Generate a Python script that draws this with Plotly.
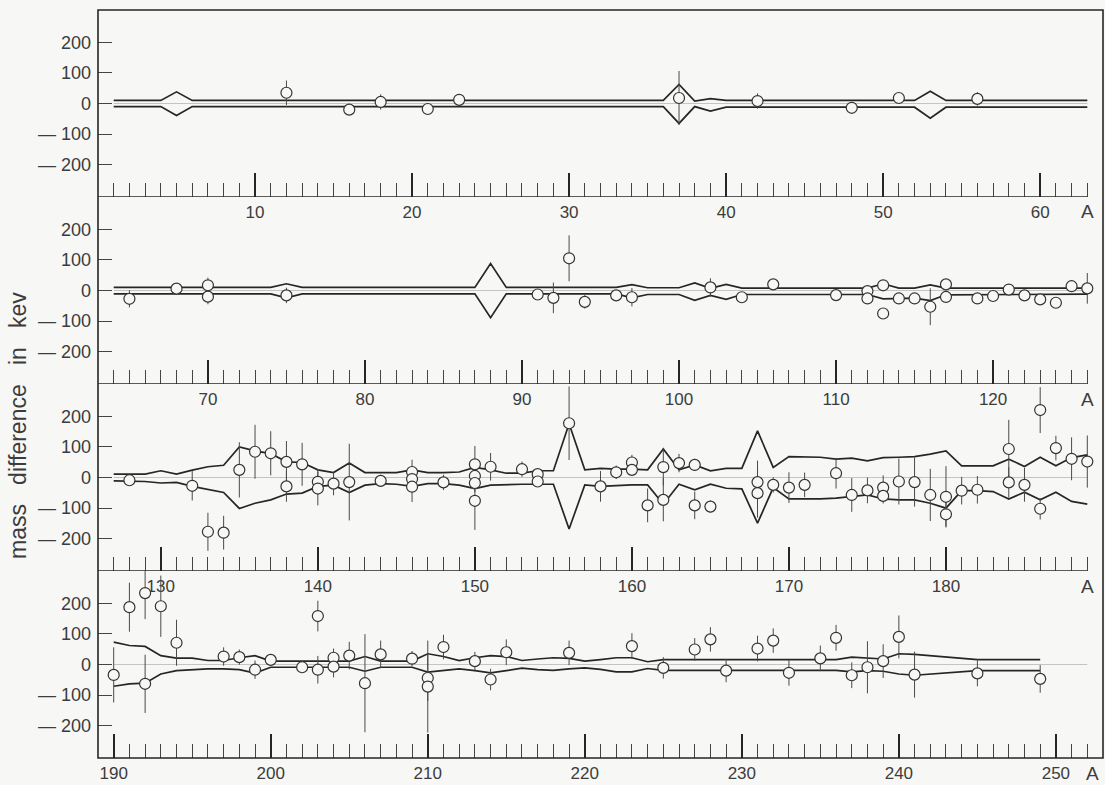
import plotly.graph_objects as go

# ---- panel 1 : A = 1 ... 63 ----
p1_A = [12, 16, 18, 21, 23, 37, 42, 48, 51, 56]
p1_v = [35, -20, 5, -18, 12, 18, 8, -14, 18, 15]
p1_e = [40, 5, 25, 18, 8, 88, 25, 6, 8, 22]
env1_A = [1, 4, 5, 6, 36, 37, 38, 39, 40, 52, 53, 54, 63]
env1_hi = [10, 10, 38, 10, 10, 62, 8, 16, 10, 10, 40, 10, 10]
env1_lo = [-10, -10, -39, -10, -10, -65, -10, -25, -12, -12, -48, -12, -12]

# ---- panel 2 : A = 64 ... 126 ----
p2_A = [65, 68, 70, 70, 75, 91, 92, 93, 94, 96, 97, 102, 104, 106, 110, 112, 112,
        113, 113, 114, 115, 116, 117, 117, 119, 120, 121, 122, 123, 124, 125, 126]
p2_v = [-27, 6, 17, -20, -16, -13, -24, 105, -37, -16, -22, 10, -22, 20, -15, -2, -26,
        17, -75, -26, -26, -53, 20, -21, -26, -18, 3, -16, -29, -40, 14, 7]
p2_e = [28, 6, 25, 25, 25, 5, 50, 75, 22, 6, 30, 30, 6, 8, 5, 5, 5,
        5, 5, 5, 5, 60, 5, 5, 5, 5, 5, 12, 12, 12, 12, 50]
env2_A = [64, 74, 75, 76, 87, 88, 89, 96, 97, 98, 100, 101, 102, 103, 104, 112, 113,
          114, 115, 116, 117, 126]
env2_hi = [10, 10, 22, 10, 10, 88, 10, 10, 19, 9, 9, 25, 7, 20, 8, 8, 22,
           8, 8, 18, 8, 8]
env2_lo = [-11, -11, -24, -11, -11, -89, -11, -11, -24, -13, -13, -32, -16, -29, -13, -13, -27,
           -25, -25, -33, -14, -12]

# ---- panel 3 : A = 127 ... 189 ----
p3_A = [128, 132, 133, 134, 135, 136, 137, 138, 138, 139, 140, 140, 141, 142, 144, 146, 146,
        146, 148, 150, 150, 150, 150, 151, 153, 154, 154, 156, 158, 159, 160, 160, 161,
        162, 162, 163, 164, 164, 165, 168, 168, 169, 170, 171, 173, 174, 175, 176, 176,
        177, 178, 179, 180, 180, 181, 182, 184, 184, 185, 186, 186, 187, 188, 189]
p3_v = [-9, -27, -177, -180, 25, 84, 79, 51, -29, 43, -14, -36, -20, -15, -11, 18, -5,
        -30, -16, 43, 5, -18, -76, 35, 27, 11, -13, 177, -29, 17, 49, 25, -91,
        34, -73, 47, 41, -91, -95, -15, -51, -24, -33, -24, 14, -57, -42, -33, -60,
        -13, -15, -57, -63, -120, -43, -40, 93, -16, -24, 220, -102, 96, 61, 52]
p3_e = [6, 48, 62, 55, 90, 88, 72, 68, 50, 70, 40, 55, 38, 125, 20, 40, 30,
        50, 25, 60, 30, 30, 95, 45, 25, 12, 12, 120, 50, 22, 25, 15, 55,
        60, 70, 30, 20, 45, 20, 70, 80, 25, 50, 40, 50, 55, 42, 40, 25,
        75, 80, 85, 100, 40, 45, 45, 95, 50, 55, 75, 35, 40, 70, 85]
env3_A = list(range(127, 190))
env3_hi = [11, 11, 11, 22, 11, 24, 35, 40, 100, 87, 78, 51, 49, 25, 16, 47, 16, 16, 16, 25,
           16, 16, 18, 33, 25, 14, 14, 22, 22, 175, 25, 30, 27, 27, 25, 93, 25, 41, 22, 30,
           30, 152, 33, 68, 68, 66, 60, 63, 54, 65, 66, 68, 76, 87, 38, 38, 38, 60, 36, 66,
           38, 65, 74]
env3_lo = [-11, -12, -13, -18, -16, -29, -40, -49, -101, -84, -73, -54, -51, -29, -25, -49,
           -25, -20, -22, -29, -20, -20, -25, -36, -25, -23, -22, -22, -22, -168, -24, -29,
           -26, -24, -24, -87, -22, -40, -22, -35, -37, -149, -33, -70, -70, -70, -67, -62,
           -57, -70, -73, -73, -84, -100, -43, -43, -46, -70, -48, -73, -48, -78, -87]

# ---- panel 4 : A = 190 ... 252 ----
p4_A = [190, 191, 192, 192, 193, 194, 197, 198, 199, 200, 202, 203, 203, 204, 204, 205, 206,
        207, 209, 210, 210, 211, 213, 214, 215, 219, 223, 225, 227, 228, 229, 231, 232,
        233, 235, 236, 237, 238, 239, 240, 241, 245, 249]
p4_v = [-34, 187, 233, -63, 190, 71, 26, 24, -17, 15, -9, 158, -17, 22, -7, 29, -61,
        33, 19, -44, -72, 57, 11, -49, 40, 38, 60, -11, 49, 82, -20, 52, 78,
        -27, 20, 87, -35, -9, 11, 90, -33, -29, -47]
p4_e = [90, 80, 85, 95, 100, 75, 30, 25, 30, 12, 5, 50, 45, 30, 35, 45, 160,
        45, 25, 75, 150, 40, 30, 35, 42, 40, 42, 35, 37, 40, 38, 42, 40,
        42, 42, 42, 42, 85, 55, 70, 75, 42, 45]
env4_A = [190, 191, 192, 193, 194, 195, 196, 197, 198, 199, 200, 205, 206, 207, 209, 210,
          211, 212, 213, 214, 215, 216, 217, 218, 219, 220, 221, 222, 223, 224, 225, 236,
          237, 238, 239, 240, 241, 245, 249]
env4_hi = [73, 62, 59, 29, 21, 21, 13, 13, 22, 29, 11, 11, 26, 11, 11, 35,
           26, 13, 22, 29, 26, 13, 18, 22, 20, 11, 16, 22, 22, 9, 16, 16,
           24, 20, 18, 35, 33, 16, 16]
env4_lo = [-71, -63, -61, -31, -20, -17, -14, -14, -17, -28, -9, -9, -22, -9, -9, -25,
           -20, -14, -20, -27, -20, -12, -17, -19, -14, -11, -16, -24, -24, -13, -19, -19,
           -24, -20, -22, -31, -35, -20, -20]

panels = [
    (1, p1_A, p1_v, p1_e, env1_A, env1_hi, env1_lo, [10, 20, 30, 40, 50, 60]),
    (64, p2_A, p2_v, p2_e, env2_A, env2_hi, env2_lo, [70, 80, 90, 100, 110, 120]),
    (127, p3_A, p3_v, p3_e, env3_A, env3_hi, env3_lo, [130, 140, 150, 160, 170, 180]),
    (190, p4_A, p4_v, p4_e, env4_A, env4_hi, env4_lo, [190, 200, 210, 220, 230, 240, 250]),
]

y_ticks = [200, 100, 0, -100, -200]
y_ticktext = ["200", "100", "0", "— 100", "— 200"]

W, H = 1105, 785
LEFT, RIGHT = 98, 1103
panel_tops = [10, 197, 384, 571]
panel_bots = [197, 384, 571, 758]

BG = "#f7f7f5"
INK = "#262626"
TXT = "#3c3c3c"
FONT = "Liberation Sans"

fig = go.Figure()
layout = dict(
    width=W, height=H,
    margin=dict(l=0, r=0, t=0, b=0),
    paper_bgcolor=BG, plot_bgcolor="rgba(0,0,0,0)",
    showlegend=False,
    font=dict(family=FONT, color=TXT),
)
shapes = []
annotations = []

for k, (s, A, v, e, eA, ehi, elo, majors) in enumerate(panels, start=1):
    xa, ya = f"x{k}", f"y{k}"
    # faint zero line
    fig.add_trace(go.Scatter(x=[s, s + 62], y=[0, 0], mode="lines",
                             line=dict(color="#c4c4c2", width=1),
                             xaxis=xa, yaxis=ya, hoverinfo="skip"))
    # error envelope
    for ys in (ehi, elo):
        fig.add_trace(go.Scatter(x=eA, y=ys, mode="lines",
                                 line=dict(color=INK, width=1.7),
                                 xaxis=xa, yaxis=ya))
    # measured differences with error bars (hollow rings over the bars)
    fig.add_trace(go.Scatter(
        x=A, y=v, mode="markers",
        marker=dict(symbol="circle", size=11, color=BG,
                    line=dict(width=1.2, color="#333333")),
        error_y=dict(type="data", array=e, visible=True, width=0,
                     thickness=1, color="#4a4a4a"),
        xaxis=xa, yaxis=ya))

    top, bot = panel_tops[k - 1], panel_bots[k - 1]
    xkey = "xaxis" if k == 1 else f"xaxis{k}"
    ykey = "yaxis" if k == 1 else f"yaxis{k}"
    layout[xkey] = dict(
        domain=[LEFT / W, RIGHT / W], range=[s - 1, s + 63], anchor=ya,
        showgrid=False, zeroline=False, showline=False,
        tickmode="array", tickvals=majors, ticktext=[str(m) for m in majors],
        ticks="inside", ticklen=24, tickwidth=1.6, tickcolor=INK,
        minor=dict(tickmode="array", tickvals=list(range(s, s + 63)),
                   ticks="inside", ticklen=14, tickwidth=1, tickcolor="#444444"),
        tickfont=dict(size=17, color=TXT, family=FONT),
        ticklabelstandoff=3,
    )
    layout[ykey] = dict(
        domain=[1 - bot / H, 1 - top / H], range=[-305, 305], anchor=xa,
        showgrid=False, zeroline=False, showline=False,
        tickmode="array", tickvals=y_ticks, ticktext=y_ticktext,
        ticks="inside", ticklen=14, tickwidth=1, tickcolor="#444444",
        tickfont=dict(size=18, color=TXT, family=FONT),
        ticklabelstandoff=6,
    )
    # axis line carrying the A-scale of this panel
    if k < 4:
        shapes.append(dict(type="line", xref=xa, yref=ya, x0=s - 1, x1=s + 62,
                           y0=-305, y1=-305, line=dict(color=INK, width=1.6)))
    # "A" unit label at the end of each scale
    annotations.append(dict(xref=xa, yref="paper",
                            x=(s + 62) if k < 4 else 252.3,
                            y=1 - (bot + 15) / H, text="A", showarrow=False,
                            font=dict(size=19, color=TXT, family=FONT),
                            xanchor="center", yanchor="middle"))

# outer frame
shapes.append(dict(type="rect", xref="paper", yref="paper",
                   x0=LEFT / W, x1=RIGHT / W, y0=1 - 758 / H, y1=1 - 10 / H,
                   line=dict(color=INK, width=1.6)))

annotations.append(dict(xref="paper", yref="paper", x=18 / W, y=1 - 426 / H,
                        text="mass\u00a0\u00a0 difference\u00a0\u00a0 in\u00a0\u00a0 kev",
                        textangle=-90, showarrow=False,
                        font=dict(size=23, color=TXT, family=FONT),
                        xanchor="center", yanchor="middle"))

layout["shapes"] = shapes
layout["annotations"] = annotations
fig.update_layout(**layout)

fig.write_html("out.html")
